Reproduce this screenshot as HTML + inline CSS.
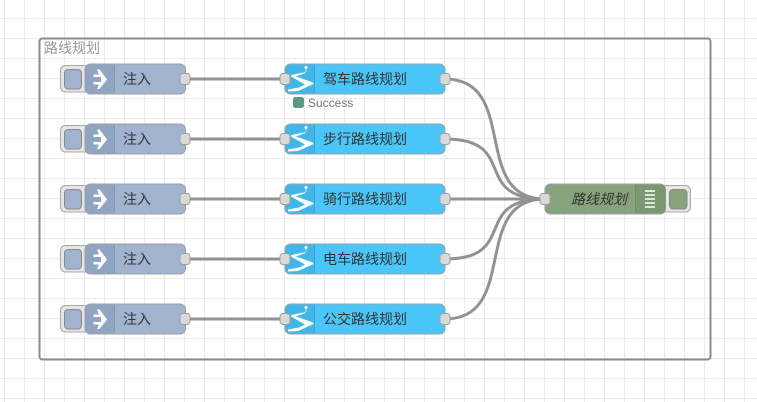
<!DOCTYPE html>
<html><head><meta charset="utf-8"><style>
html,body{margin:0;padding:0;background:#fff;width:757px;height:402px;overflow:hidden}
svg{display:block}
text{font-family:"Liberation Sans","Noto Sans CJK SC",sans-serif;font-size:14px}
</style></head><body>
<svg width="757" height="402" viewBox="0 0 757 402" xmlns="http://www.w3.org/2000/svg">
<defs>
<pattern id="g" width="20" height="20" patternUnits="userSpaceOnUse" x="4" y="18">
<path d="M0.5 0V20M0 0.5H20" stroke="#ebebeb" stroke-width="1" fill="none"/>
</pattern>
<g id="inject">
<rect x="60.5" y="65.5" width="32" height="26.5" rx="5" fill="#e6e6e6" stroke="#a8a8a8"/>
<rect x="64.5" y="69.5" width="17" height="19.5" rx="3.5" fill="#a0b4cf" stroke="#8a8a8a"/>
<rect x="85" y="64" width="100.5" height="30" rx="5.5" fill="#a0b4cf" stroke="#a0a0a0"/>
<path d="M90.5 64.5H114.5V93.5H90.5Q85.5 93.5 85.5 88.5V69.5Q85.5 64.5 90.5 64.5Z" fill="#8fa5c2"/>
<path d="M114.5 65V93" stroke="#8296b2" stroke-width="1"/>
<path d="M93.5 74.5H99L97 69.5H99.5L107 79.5L99.5 89H97L99 84.5H93.5V82H101V77H93.5Z" fill="#fff"/>
<text x="123" y="84" fill="#333">注入</text>
<rect x="180" y="73.5" width="10" height="11" rx="3" fill="#d9d9d9" stroke="#a0a0a0"/>
</g>
<g id="fn">
<rect x="285" y="64" width="160" height="30" rx="5.5" fill="#4ac6fb" stroke="#a0a0a0"/>
<path d="M290.5 64.5H314V93.5H290.5Q285.5 93.5 285.5 88.5V69.5Q285.5 64.5 290.5 64.5Z" fill="#42b6e8"/>
<path d="M314.5 65V93" stroke="#3aa4d4" stroke-width="1"/>
<circle cx="306" cy="67.5" r="1.5" fill="#fff"/>
<path d="M305.7 69h.6v3h-.6zM291 75L305 72.3L305.5 73L296 76.5L313 82.5L313.5 84L298 91L288 91.5L288 89.5L299 87.5L305 84.5L291 76.5Z" fill="#fff"/>
<rect x="280" y="73.5" width="10" height="11" rx="3" fill="#d9d9d9" stroke="#a0a0a0"/>
<rect x="440" y="73.5" width="10" height="11" rx="3" fill="#d9d9d9" stroke="#a0a0a0"/>
</g>
</defs>
<rect width="757" height="402" fill="#fff"/>
<rect width="757" height="402" fill="url(#g)"/>
<rect x="39.5" y="38.5" width="671" height="321" rx="3" fill="none" stroke="#8c8c8c" stroke-width="2"/>
<text x="44" y="53" fill="#999">路线规划</text>

<g fill="none" stroke="#929292" stroke-width="3">
<path d="M185 79H285M185 139H285M185 199H285M185 259H285M185 319H285"/>
<path d="M445 79C520 79 470 199 545 199"/>
<path d="M445 139C520 139 470 199 545 199"/>
<path d="M445 199H545"/>
<path d="M445 259C520 259 470 199 545 199"/>
<path d="M445 319C520 319 470 199 545 199"/>
</g>

<use href="#inject"/>
<use href="#inject" y="60"/>
<use href="#inject" y="120"/>
<use href="#inject" y="180"/>
<use href="#inject" y="240"/>

<use href="#fn"/>
<use href="#fn" y="60"/>
<use href="#fn" y="120"/>
<use href="#fn" y="180"/>
<use href="#fn" y="240"/>
<text x="323" y="84" fill="#333">驾车路线规划</text>
<text x="323" y="144" fill="#333">步行路线规划</text>
<text x="323" y="204" fill="#333">骑行路线规划</text>
<text x="323" y="264" fill="#333">电车路线规划</text>
<text x="323" y="324" fill="#333">公交路线规划</text>

<rect x="293" y="97" width="11" height="11" rx="2.5" fill="#5a9a80"/>
<text x="308" y="107" fill="#777" style="font-size:12px">Success</text>

<rect x="655.5" y="185.5" width="35" height="26.5" rx="5" fill="#e6e6e6" stroke="#a8a8a8"/>
<rect x="669.5" y="189.5" width="17.5" height="19.5" rx="3.5" fill="#87a37c" stroke="#8a8a8a"/>
<rect x="545" y="184" width="120.5" height="30" rx="5.5" fill="#87a37c" stroke="#a0a0a0"/>
<path d="M635.5 184.5H660.5Q665.5 184.5 665.5 189.5V208.5Q665.5 213.5 660.5 213.5H635.5Z" fill="#7c9872"/>
<path d="M635.5 185V213" stroke="#6f8a66" stroke-width="1"/>
<path d="M645 191h10M645 195h10M645 199h10M645 203h10M645 207h10" stroke="#fff" stroke-width="1.5"/>
<text x="571" y="204" fill="#333" style="font-style:italic">路线规划</text>
<rect x="540" y="193.5" width="10" height="11" rx="3" fill="#d9d9d9" stroke="#a0a0a0"/>
</svg>
</body></html>
